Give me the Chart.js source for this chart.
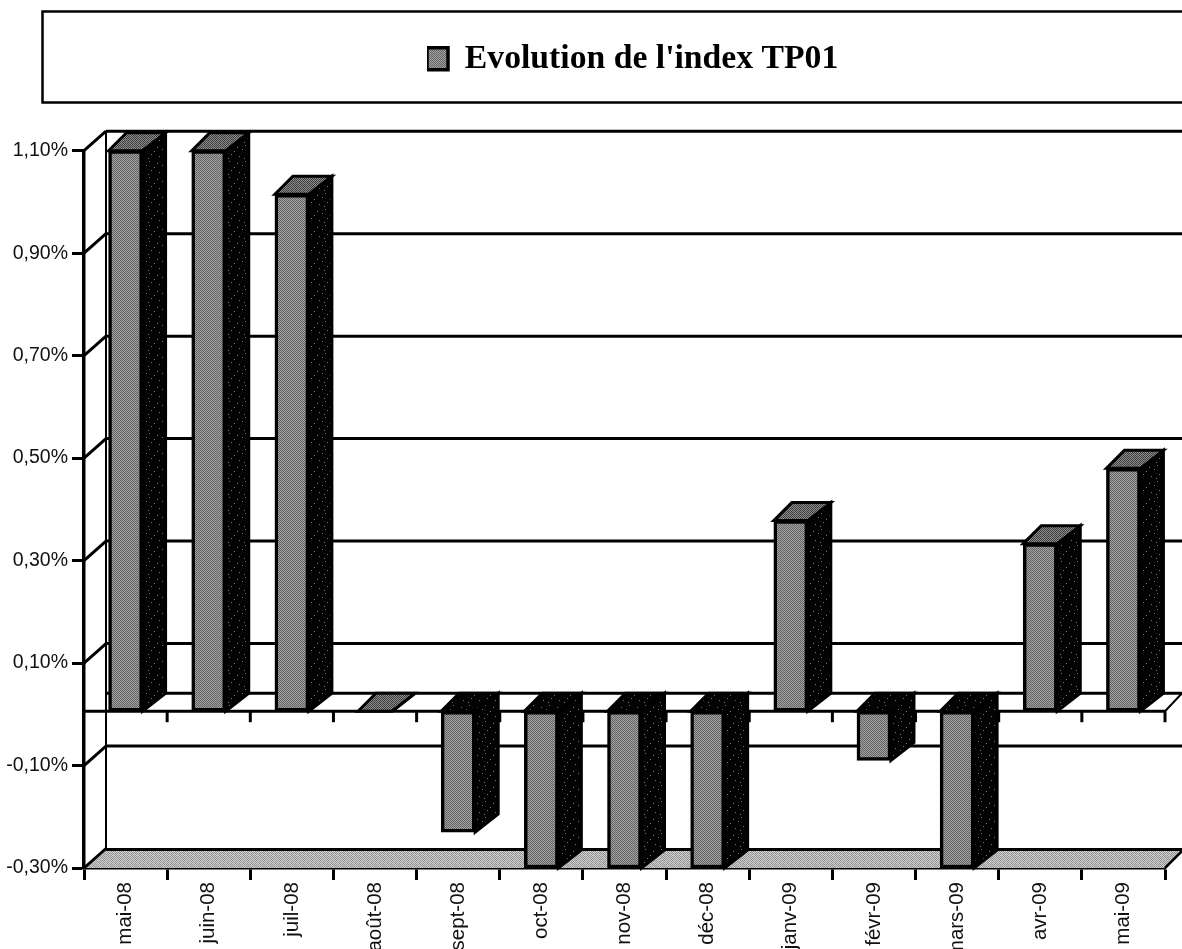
<!DOCTYPE html>
<html lang="fr">
<head>
<meta charset="utf-8">
<title>Evolution de l'index TP01</title>
<script src="https://cdn.jsdelivr.net/npm/chart.js@4/dist/chart.umd.min.js"></script>
<style>
html,body{margin:0;padding:0;background:#fff;overflow:hidden}
canvas{display:block}
</style>
</head>
<body>
<canvas id="c" width="1182" height="949"></canvas>
<script>
const categories = ["mai-08","juin-08","juil-08","août-08","sept-08","oct-08","nov-08","déc-08","janv-09","févr-09","mars-09","avr-09","mai-09"];
const seriesName = "Evolution de l'index TP01";
const seriesValues = [1.10,1.10,1.015,0.006,-0.23,-0.30,-0.30,-0.30,0.378,-0.09,-0.30,0.333,0.48];
const axisMin = -0.30, axisMax = 1.10, axisStep = 0.20;

const DX = 23, DY = 18, WALL_DX = 22, WALL_DY = 19.5, LIFT = 0.006;

function dither(rows, pal){
  const s = rows.length, cv = document.createElement('canvas');
  cv.width = s; cv.height = s;
  const g = cv.getContext('2d');
  rows.forEach((r,y)=>[...r].forEach((ch,x)=>{g.fillStyle = pal[ch]; g.fillRect(x,y,1,1);}));
  return g.createPattern(cv,'repeat');
}
const rows = ["abababab","babcbaba","abababab","bababcba","abcbabab","babababa","abababcb","bcbababa"];
const frontFill = dither(rows,{a:'#626262',b:'#a2a2a2',c:'#6e6e6e'});
const sideFill = dither([
  "aaaaaaaaaaaaaaaa","aaaaacaaaaaaaaaa","aaaaaaaaaaaaaaaa","aaaaaaaaaaaaacaa",
  "aaaaaaaaaaaaaaaa","aacaaaaaaaaaaaaa","aaaaaaaaaaaaaaaa","aaaaaaaaaacaaaaa",
  "aaaaaaaaaaaaaaaa","aaaaaaaaaaaaaaaa","aaaaaaacaaaaaaaa","aaaaaaaaaaaaaaaa",
  "aaaaaaaaaaaaaaac","aaaaaaaaaaaaaaaa","aaaacaaaaaaaaaaa","aaaaaaaaaaaaaaaa"
],{a:'#030303',c:'#777777'});
const topFill = dither(rows,{a:'#3a3a3a',b:'#8c8c8c',c:'#555555'});
const floorFill = dither(rows,{a:'#8f8f8f',b:'#cfcfcf',c:'#b0b0b0'});

function poly(ctx, pts, fill, lw){
  ctx.beginPath();
  pts.forEach((p,i)=> i ? ctx.lineTo(p[0],p[1]) : ctx.moveTo(p[0],p[1]));
  ctx.closePath();
  if(fill){ctx.fillStyle = fill; ctx.fill();}
  if(lw){ctx.lineWidth = lw; ctx.strokeStyle = '#000'; ctx.lineJoin='miter'; ctx.stroke();}
}
function seg(ctx,x1,y1,x2,y2,lw){
  ctx.beginPath(); ctx.moveTo(x1,y1); ctx.lineTo(x2,y2);
  ctx.lineWidth = lw; ctx.strokeStyle = '#000'; ctx.stroke();
}

const scene3d = {
  id:'scene3d',
  afterLayout(chart){
    const lg = chart.legend;
    lg.left = 427; lg.right = 1182; lg.top = 42;
  },
  beforeDraw(chart){
    const c = chart.ctx;
    c.save();
    c.fillStyle = '#fff'; c.fillRect(0,0,chart.width,chart.height);
    c.beginPath(); c.moveTo(1190,11.5); c.lineTo(42.5,11.5); c.lineTo(42.5,102.5); c.lineTo(1190,102.5);
    c.lineWidth = 2.5; c.strokeStyle = '#000'; c.stroke();
    c.restore();
  },
  beforeDatasetsDraw(chart){
    const c = chart.ctx, {x,y} = chart.scales, W = chart.width;
    const L = x.left, R = x.right, bot = y.getPixelForValue(axisMin);
    const zero = y.getPixelForValue(LIFT);
    c.save();
    // floor
    poly(c,[[L,bot],[L+WALL_DX,bot-WALL_DY+1],[W+4,bot-WALL_DY+1],[R,bot]],floorFill,0);
    seg(c,L+WALL_DX,bot-WALL_DY+1,W+4,bot-WALL_DY+1,3);
    seg(c,R,bot,R+18,bot-18,2.5);
    // back wall and grid
    seg(c,L+WALL_DX,y.getPixelForValue(axisMax)-WALL_DY,L+WALL_DX,bot-WALL_DY+1,2);
    y.ticks.forEach(t=>{
      const py = y.getPixelForValue(t.value);
      seg(c,L,py,L+WALL_DX,py-WALL_DY,3);
      if(t.value > axisMin + 1e-6) seg(c,L+WALL_DX,py-WALL_DY,W+4,py-WALL_DY,3);
    });
    // zero plane
    seg(c,L+WALL_DX,zero-DY,W+4,zero-DY,3);
    seg(c,L,zero,R,zero,3);
    seg(c,R,zero,W,zero-DY,2);
    const step = (R-L)/categories.length;
    for(let i=1;i<=categories.length;i++) seg(c,L+i*step,zero,L+i*step,zero+11,3);
    // bar sides and tops
    chart.getDatasetMeta(0).data.forEach(b=>{
      const l = b.x-b.width/2, r = b.x+b.width/2;
      const hi = Math.min(b.y,b.base), lo = Math.max(b.y,b.base);
      const neg = b.y > b.base;
      poly(c,[[r,hi],[r+DX,hi-DY],[r+DX,lo-DY],[r,lo]],sideFill,3);
      poly(c,[[l,hi],[l+DX-5,hi-DY],[r+DX,hi-DY],[r,hi]],neg?sideFill:topFill,3);
    });
    c.restore();
  }
};

new Chart(document.getElementById('c'),{
  type:'bar',
  data:{labels:categories,datasets:[{
    label:seriesName,
    data:seriesValues,
    base:LIFT,
    backgroundColor:frontFill,
    borderColor:'#000',
    borderWidth:3.5,
    borderSkipped:false,
    barThickness:34,
    clip:false
  }]},
  plugins:[scene3d],
  options:{
    responsive:false,
    animation:false,
    devicePixelRatio:1,
    layout:{padding:{top:107,right:17,bottom:0,left:0}},
    plugins:{
      tooltip:{enabled:false},
      title:{display:false},
      legend:{
        display:true,position:'top',align:'start',
        labels:{
          boxWidth:21,boxHeight:22,padding:0,color:'#000',
          font:{family:'"Liberation Serif"',size:33.7,weight:'bold'}
        }
      }
    },
    scales:{
      x:{
        type:'category',offset:true,
        border:{display:true,color:'#000',width:3.5},
        grid:{display:true,drawOnChartArea:false,drawTicks:true,tickLength:12,tickWidth:3,tickColor:'#000',offset:true},
        ticks:{autoSkip:false,minRotation:90,maxRotation:90,padding:2,color:'#111',
          font:{family:'"Liberation Sans"',size:20.5}},
        afterFit(s){s.height = 81;}
      },
      y:{
        min:axisMin,max:axisMax,
        border:{display:true,color:'#000',width:3.5},
        grid:{display:true,drawOnChartArea:false,drawTicks:true,tickLength:12,tickWidth:3,tickColor:'#000'},
        ticks:{stepSize:axisStep,padding:4,color:'#111',
          font:{family:'"Liberation Sans"',size:19.5},
          callback:v=>v.toFixed(2).replace('.',',')+'%'},
        afterFit(s){s.width = 84;}
      }
    }
  }
});
</script>
</body>
</html>
